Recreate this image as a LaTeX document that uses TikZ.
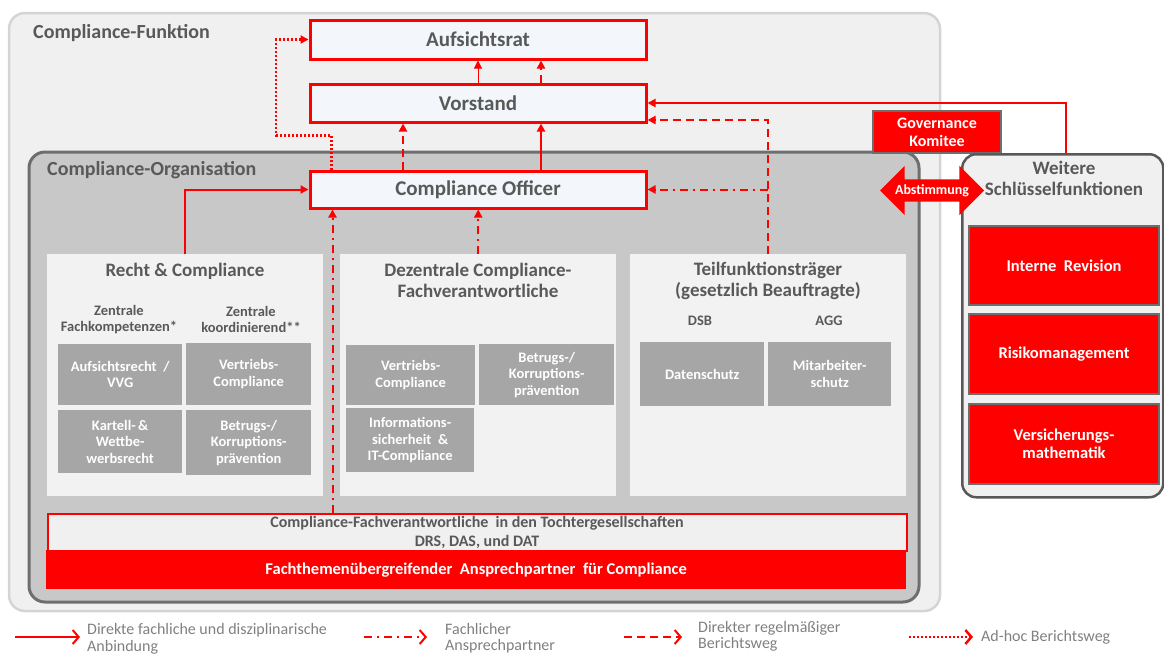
\documentclass[tikz,border=0pt]{standalone}
\usepackage{fontspec}
\setmainfont{Carlito}
\usetikzlibrary{arrows.meta,positioning,shapes.arrows}

\definecolor{rot}{HTML}{FF0000}
\definecolor{textgrau}{HTML}{595959}
\definecolor{hellgrau}{HTML}{F0F0F0}
\definecolor{rahmengrau}{HTML}{D4D4D4}
\definecolor{orggrau}{HTML}{C8C8C8}
\definecolor{dunkelgrau}{HTML}{6E6E6E}
\definecolor{panelgrau}{HTML}{F2F2F2}
\definecolor{kachelgrau}{HTML}{A6A6A6}
\definecolor{boxweiss}{HTML}{F3F7FB}
\definecolor{legendgrau}{HTML}{808080}

\begin{document}
\begin{tikzpicture}[
    x = 1pt, y = -1pt, % pixel grid, y downwards
    > = {Triangle[length=8pt,width=8pt]}, % arrow head style
    node distance = 22pt, % distance between nodes
    inner sep = 0pt
    ]

    \tikzset{
    rahmen/.style = {rounded corners = 16pt, line width = 2.5pt},
    rahmentitel/.style = {anchor = west, text = textgrau, font = \fontsize{20}{22}\selectfont\bfseries},
    leitung/.style = {draw = rot, line width = 3pt, fill = boxweiss, text = textgrau,
        minimum width = 336pt, font = \fontsize{21}{24}\selectfont\bfseries},
    panel/.style = {fill = panelgrau, anchor = north west, minimum width = 276pt, minimum height = 242pt},
    titel/.style = {text = textgrau, align = center, font = \fontsize{19}{21}\selectfont\bfseries},
    unter/.style = {text = textgrau, align = center, font = \fontsize{14.5}{15.5}\selectfont\bfseries},
    kachel/.style = {fill = kachelgrau, text = white, align = center, anchor = north west,
        font = \fontsize{14.5}{16.5}\selectfont\bfseries},
    rotkachel/.style = {fill = rot, draw = dunkelgrau, line width = 2pt, text = white, align = center,
        anchor = north west, minimum width = 190pt, font = \fontsize{16.5}{18}\selectfont\bfseries},
    abst/.style = {text = white, font = \fontsize{14}{15}\selectfont\bfseries},
    legende/.style = {anchor = west, align = left, text = legendgrau, font = \fontsize{16}{16.5}\selectfont},
    direkt/.style = {draw = rot, line width = 2pt, ->},
    fachlich/.style = {draw = rot, line width = 2pt, dash pattern = on 8pt off 5pt on 2pt off 5pt, ->},
    bericht/.style = {draw = rot, line width = 2pt, dash pattern = on 8pt off 5pt, ->},
    adhoc/.style = {draw = rot, line width = 2.5pt, dash pattern = on 2pt off 2pt, ->},
    kerbe/.style = {-{Straight Barb[length=6pt,width=14pt]}}
    }

    \useasboundingbox (0,0) rectangle (1164,657);

    % frames
    \draw[rahmen, draw = rahmengrau, fill = hellgrau] (9,13) rectangle (940,611);
    \node[rahmentitel] (funktion) at (33,33) {Compliance-Funktion};
    \draw[rahmen, draw = dunkelgrau, line width = 3pt, fill = orggrau] (29,152) rectangle (919,602);
    \node[rahmentitel] (organisation) at (47,170) {Compliance-Organisation};

    % reporting line
    \node[leitung, minimum height = 39pt] (aufsicht) at (478,39.5) {Aufsichtsrat};
    \node[leitung, minimum height = 38pt, below = of aufsicht] (vorstand) {Vorstand};
    \node[leitung, minimum height = 37pt, below = 46pt of vorstand] (officer) {Compliance Officer};

    % Recht & Compliance
    \node[panel] (recht) at (47,254) {};
    \node[titel] (rechttitel) at (185,271) {Recht \& Compliance};
    \node[unter] (zentral1) at (119,319.5) {Zentrale\\Fachkompetenzen*};
    \node[unter] (zentral2) at (251,319.5) {Zentrale\\koordinierend**};
    \node[kachel, minimum width = 124pt, minimum height = 61pt] (k1) at (58,344) {Aufsichtsrecht\ \ /\\VVG};
    \node[kachel, minimum width = 125pt, minimum height = 62pt] (k2) at (186,343) {Vertriebs-\\Compliance};
    \node[kachel, minimum width = 124pt, minimum height = 63pt] (k3) at (58,410) {Kartell-\,\&\\Wettbe-\\werbsrecht};
    \node[kachel, minimum width = 125pt, minimum height = 65pt] (k4) at (186,410) {Betrugs-/\\Korruptions-\\prävention};

    % Dezentrale
    \node[panel] (dezentral) at (340,254) {};
    \node[titel] (dztitel) at (478,280) {Dezentrale Compliance-\\Fachverantwortliche};
    \node[kachel, minimum width = 129pt, minimum height = 60pt] (d1) at (346,345) {Vertriebs-\\Compliance};
    \node[kachel, minimum width = 135pt, minimum height = 61pt] (d2) at (479,344) {Betrugs-/\\Korruptions-\\prävention};
    \node[kachel, minimum width = 128pt, minimum height = 64pt] (d3) at (346,408) {Informations-\\sicherheit\ \ \&\\IT-Compliance};

    % Teilfunktionstraeger
    \node[panel] (teil) at (630,254) {};
    \node[titel] (tftitel) at (768,281) {Teilfunktionsträger\\(gesetzlich Beauftragte)};
    \node[unter] (dsb) at (700,321) {DSB};
    \node[unter] (agg) at (829,321) {AGG};
    \node[kachel, minimum width = 124pt, minimum height = 64pt] (t1) at (640,342) {Datenschutz};
    \node[kachel, minimum width = 123pt, minimum height = 64pt] (t2) at (768,342) {Mitarbeiter-\\schutz};

    % Tochtergesellschaften
    \node[anchor = north west, draw = rot, line width = 2pt, fill = hellgrau, minimum width = 859pt,
        minimum height = 37pt, align = center, text = textgrau,
        font = \fontsize{16}{18.5}\selectfont\bfseries] (tochter) at (46.5,513)
        {Compliance-Fachverantwortliche\ \ in den Tochtergesellschaften\\DRS, DAS, und DAT};
    \node[anchor = north west, fill = rot, minimum width = 860pt, minimum height = 39pt, text = white,
        font = \fontsize{16.5}{18}\selectfont\bfseries] (ansprech) at (46,550)
        {Fachthemenübergreifender\ \ Ansprechpartner\ \ für Compliance};

    % Governance, weitere Schluesselfunktionen
    \node[rotkachel, minimum width = 128pt, minimum height = 42pt,
        font = \fontsize{16}{18}\selectfont\bfseries] (governance) at (872,110) {Governance\\Komitee};
    \node[anchor = north west, rounded corners = 14pt, draw = dunkelgrau!80!black, line width = 2.5pt,
        fill = hellgrau, minimum width = 201pt, minimum height = 343pt] (weitere) at (961,153) {};
    \node[titel] (wtitel) at (1064,178.5) {Weitere\\Schlüsselfunktionen};
    \node[rotkachel, minimum height = 79pt] (revision) at (968,225) {Interne\ \ Revision};
    \node[rotkachel, minimum height = 80pt] (risiko) at (968,313) {Risikomanagement};
    \node[rotkachel, minimum height = 80pt] (mathe) at (968,403) {Versicherungs-\\mathematik};

    % connectors
    \draw[direkt, line width = 1pt] (vorstand.north) -- (aufsicht.south);
    \draw[bericht] ([xshift=63pt]vorstand.north) -- ([xshift=63pt]aufsicht.south);
    \draw[bericht] ([xshift=-75pt]officer.north) -- ([xshift=-75pt]vorstand.south);
    \draw[direkt] ([xshift=63pt]officer.north) -- ([xshift=63pt]vorstand.south);
    \draw[adhoc] ([xshift=-146.5pt]officer.north) -- ++(0,-34) -- ++(-55.5,0) |- (aufsicht.west);
    \draw[direkt] ([xshift=3pt]weitere.north) |- (vorstand.east);
    \draw[bericht] (teil.north) |- ([yshift=-17pt]vorstand.east);
    \draw[fachlich] (teil.north |- officer.east) -- (officer.east);
    \draw[direkt] (recht.north) |- (officer.west);
    \draw[fachlich] (dezentral.north) -- (dezentral.north |- officer.south);
    \draw[fachlich] ([xshift=-144.5pt]tochter.north) -- ([xshift=-144.5pt]tochter.north |- officer.south);

    \node[double arrow, fill = rot, minimum height = 104pt, inner ysep = 11pt,
        double arrow head extend = 13.5pt, label = {[abst]center:Abstimmung}] (abstimmung) at (932,190.5) {};

    % legend
    \coordinate (l1a) at (15,637);
    \coordinate (l1b) at (80,637);
    \draw[direkt, kerbe] (l1a) -- (l1b);
    \node[legende] (leg1) at (87,639) {Direkte fachliche und disziplinarische\\Anbindung};
    \coordinate (l2a) at (364,637);
    \coordinate (l2b) at (427,637);
    \draw[fachlich, kerbe] (l2a) -- (l2b);
    \node[legende] (leg2) at (445,638) {Fachlicher\\Ansprechpartner};
    \coordinate (l3a) at (624,637);
    \coordinate (l3b) at (682,637);
    \draw[bericht, kerbe] (l3a) -- (l3b);
    \node[legende] (leg3) at (698,636.5) {Direkter regelmäßiger\\Berichtsweg};
    \coordinate (l4a) at (909,637);
    \coordinate (l4b) at (973,637);
    \draw[adhoc, kerbe] (l4a) -- (l4b);
    \node[legende] (leg4) at (981,637) {Ad-hoc Berichtsweg};
\end{tikzpicture}
\end{document}
